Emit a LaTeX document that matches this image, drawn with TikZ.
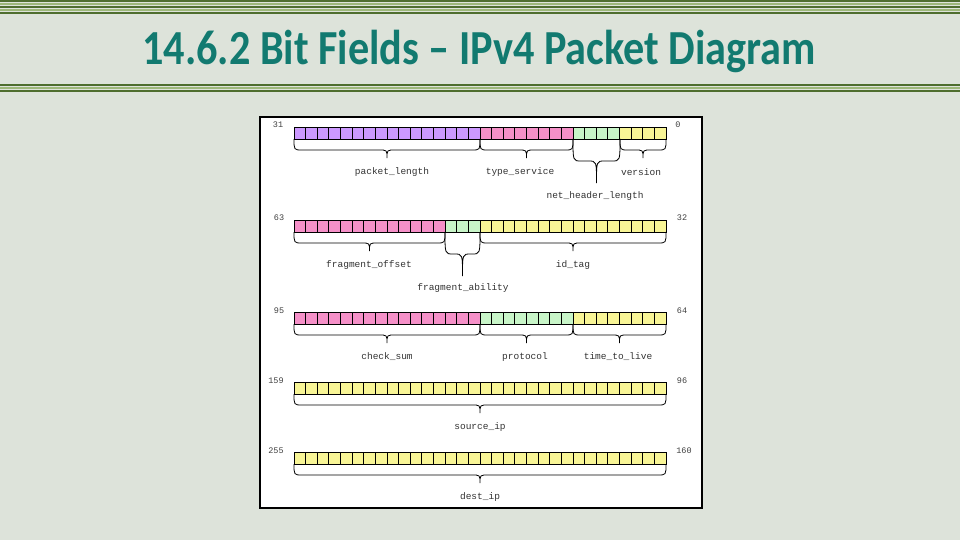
\documentclass[tikz,border=0pt]{standalone}
\usepackage{fontspec}
\newfontfamily\titlefont{Carlito}
\newfontfamily\monof{Liberation Mono}
\definecolor{bg}{HTML}{DDE3DA}
\definecolor{teal}{HTML}{127A70}
\definecolor{gdark}{HTML}{4E6E2E}
\definecolor{glight}{HTML}{9DB87A}
\definecolor{cpur}{HTML}{CC99FF}
\definecolor{cpink}{HTML}{F590C8}
\definecolor{cgrn}{HTML}{C8F5C8}
\definecolor{cyel}{HTML}{F8F596}
\newcommand\cellrow[4]{% y, start, count, color
  \foreach \i in {1,...,#3}{
    \pgfmathsetmacro\xa{294+(#2+\i-1)*11.625}
    \filldraw[fill=#4,draw=black,line width=0.8pt] (\xa,#1) rectangle ++(11.625,12);
  }}
\newcommand\brc[5]{% x1,x2,y,depth,tip
  \pgfmathsetmacro\xm{(#1+#2)/2}
  \draw[line width=0.8pt] (#1,#3) .. controls (#1,#3+#4) and (#1,#3+#4) .. (#1+8,#3+#4)
    -- (\xm-8,#3+#4) .. controls (\xm,#3+#4) and (\xm,#3+#4) .. (\xm,#3+#4+#5)
    .. controls (\xm,#3+#4) and (\xm,#3+#4) .. (\xm+8,#3+#4) -- (#2-8,#3+#4)
    .. controls (#2,#3+#4) and (#2,#3+#4) .. (#2,#3);}
\tikzset{lab/.style={font=\monof\fontsize{9.5}{10}\selectfont,text=black!80,inner sep=0pt},
  num/.style={font=\monof\fontsize{8.5}{9}\selectfont,text=black!75,inner sep=0pt}}
\begin{document}
\begin{tikzpicture}[x=1pt,y=-1pt]
\useasboundingbox (0,0) rectangle (960,540);
\fill[bg] (0,0) rectangle (960,540);
% stripes
\foreach \y/\c in {0/gdark,3/glight,6/gdark,9/glight,12/gdark,84/gdark,87/glight,90/gdark}
  \fill[\c] (0,\y) rectangle (960,\y+2);
\node[font=\titlefont\bfseries\fontsize{48}{50}\selectfont,text=teal,inner sep=0pt] (title) at (479,51) {\scalebox{0.88}[1.02]{14.6.2 Bit Fields – IPv4 Packet Diagram}};
% frame
\draw[fill=white,line width=2pt] (260,117) rectangle (702,508);
% row 1
\cellrow{127}{0}{16}{cpur}\cellrow{127}{16}{8}{cpink}\cellrow{127}{24}{4}{cgrn}\cellrow{127}{28}{4}{cyel}
\brc{294}{480}{139}{11}{8}\brc{480}{573}{139}{11}{8}\brc{573}{620}{139}{22}{22}\brc{620}{666}{139}{11}{8}
\node[num] (n31) at (278,125) {31}; \node[num] (n0) at (678,125) {0};
\node[lab] (l1) at (392,172) {packet\_length};
\node[lab] (l2) at (520,172) {type\_service};
\node[lab] (l3) at (641,172) {version};
\node[lab] (l4) at (595,196) {net\_header\_length};
% row 2
\cellrow{220}{0}{13}{cpink}\cellrow{220}{13}{3}{cgrn}\cellrow{220}{16}{16}{cyel}
\brc{294}{445}{232}{11}{8}\brc{445}{480}{232}{22}{22}\brc{480}{666}{232}{11}{8}
\node[num] (n63) at (279,218) {63}; \node[num] (n32) at (682,218) {32};
\node[lab] (l5) at (369,265) {fragment\_offset};
\node[lab] (l6) at (573,265) {id\_tag};
\node[lab] (l7) at (463,288) {fragment\_ability};
% row 3
\cellrow{312}{0}{16}{cpink}\cellrow{312}{16}{8}{cgrn}\cellrow{312}{24}{8}{cyel}
\brc{294}{480}{324}{11}{8}\brc{480}{573}{324}{11}{8}\brc{573}{666}{324}{11}{8}
\node[num] (n95) at (279,311) {95}; \node[num] (n64) at (682,311) {64};
\node[lab] (l8) at (387,357) {check\_sum};
\node[lab] (l9) at (525,357) {protocol};
\node[lab] (l10) at (618,357) {time\_to\_live};
% row 4
\cellrow{382}{0}{32}{cyel}
\brc{294}{666}{394}{11}{8}
\node[num] (n159) at (276,381) {159}; \node[num] (n96) at (682,381) {96};
\node[lab] (l11) at (480,427) {source\_ip};
% row 5
\cellrow{452}{0}{32}{cyel}
\brc{294}{666}{464}{11}{8}
\node[num] (n255) at (276,451) {255}; \node[num] (n160) at (684,451) {160};
\node[lab] (l12) at (480,497) {dest\_ip};
\end{tikzpicture}
\end{document}
